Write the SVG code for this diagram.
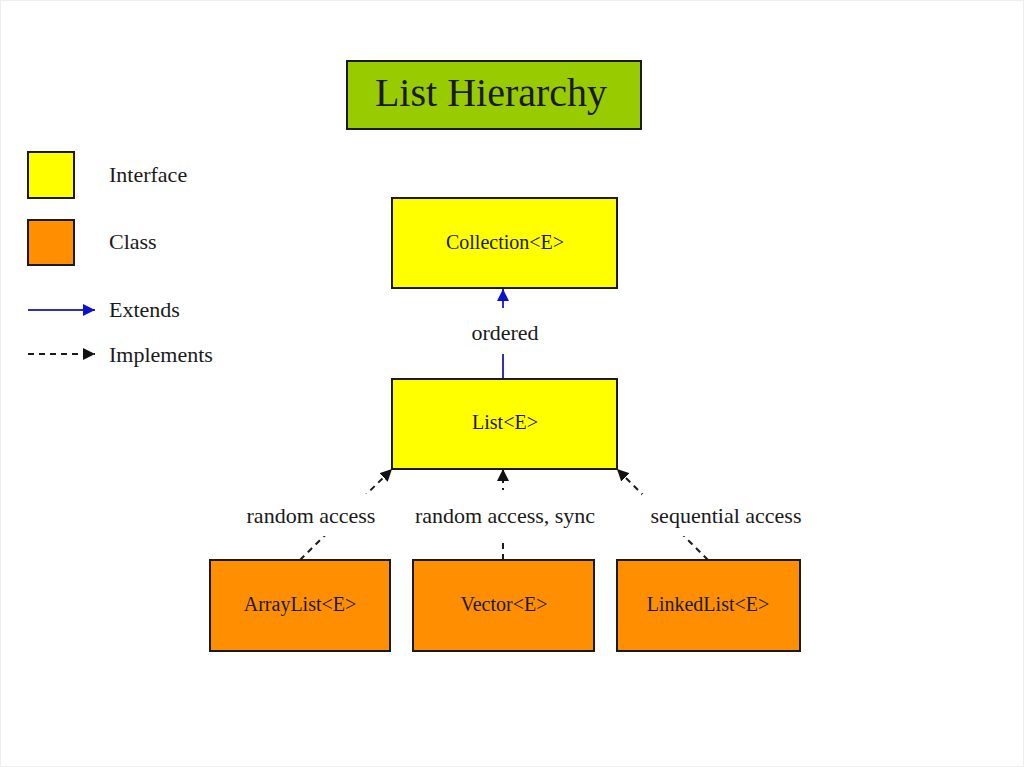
<svg xmlns="http://www.w3.org/2000/svg" width="1024" height="767" viewBox="0 0 1024 767">
<defs>
<style>
.t{font-family:"Liberation Serif","Times New Roman",serif;fill:#1a1a1a}
.box{stroke:#1a1a1a;stroke-width:2}
.ifc{fill:#ffff00}
.cls{fill:#ff8f00}
.lbl{font-size:22px;text-anchor:middle}
.nl{font-size:20px;text-anchor:middle}
.leg{font-size:22px}
.impl{stroke:#1a1a1a;stroke-width:2;stroke-dasharray:6,5;fill:none}
.ext{stroke:#3030c0;stroke-width:2;fill:none}
</style>
<marker id="ahk" viewBox="0 0 10 10" refX="10" refY="5" markerWidth="12" markerHeight="12" markerUnits="userSpaceOnUse" orient="auto"><path d="M0,0 L10,5 L0,10 z" fill="#111"/></marker>
<marker id="ahb" viewBox="0 0 10 10" refX="10" refY="5" markerWidth="12" markerHeight="12" markerUnits="userSpaceOnUse" orient="auto"><path d="M0,0 L10,5 L0,10 z" fill="#1010d0"/></marker>
</defs>
<rect x="0" y="0" width="1024" height="767" fill="#ffffff"/>
<rect x="0.5" y="0.5" width="1023" height="766" fill="none" stroke="#eeeeee"/>

<g id="title">
<rect x="347" y="61" width="294" height="68" fill="#99cc00" class="box"/>
<text x="491" y="106" class="t" font-size="40" text-anchor="middle">List Hierarchy</text>
</g>

<g id="legend">
<rect x="28" y="152" width="46" height="46" class="box ifc"/>
<text x="109" y="182" class="t leg">Interface</text>
<rect x="28" y="220" width="46" height="45" class="box cls"/>
<text x="109" y="249" class="t leg">Class</text>
<line x1="28" y1="310" x2="95" y2="310" class="ext" marker-end="url(#ahb)"/>
<text x="109" y="317" class="t leg">Extends</text>
<line x1="28" y1="354" x2="95" y2="354" class="impl" stroke-dasharray="5,4" marker-end="url(#ahk)"/>
<text x="109" y="362" class="t leg">Implements</text>
</g>

<g id="connectors">
<line x1="503" y1="379" x2="503" y2="289" class="ext" marker-end="url(#ahb)"/>
<line x1="300" y1="560" x2="392" y2="469" class="impl" marker-end="url(#ahk)"/>
<line x1="503" y1="560" x2="503" y2="469" class="impl" marker-end="url(#ahk)"/>
<line x1="708" y1="560" x2="617" y2="469" class="impl" marker-end="url(#ahk)"/>
<rect x="462" y="308" width="84" height="46" fill="#ffffff"/>
<text x="505" y="340" class="t lbl">ordered</text>
<rect x="238" y="494" width="146" height="42" fill="#ffffff"/>
<text x="311" y="523" class="t lbl">random access</text>
<rect x="404" y="490" width="202" height="50" fill="#ffffff"/>
<text x="505" y="523" class="t lbl">random access, sync</text>
<rect x="642" y="494" width="168" height="42" fill="#ffffff"/>
<text x="726" y="523" class="t lbl">sequential access</text>
</g>

<g id="collection">
<rect x="392" y="198" width="225" height="90" class="box ifc"/>
<text x="505" y="249" class="t nl">Collection&lt;E&gt;</text>
</g>
<g id="list">
<rect x="392" y="379" width="225" height="90" class="box ifc"/>
<text x="505" y="429" class="t nl">List&lt;E&gt;</text>
</g>
<g id="arraylist">
<rect x="210" y="560" width="180" height="91" class="box cls"/>
<text x="300" y="611" class="t nl">ArrayList&lt;E&gt;</text>
</g>
<g id="vector">
<rect x="413" y="560" width="181" height="91" class="box cls"/>
<text x="504" y="611" class="t nl">Vector&lt;E&gt;</text>
</g>
<g id="linkedlist">
<rect x="617" y="560" width="183" height="91" class="box cls"/>
<text x="708" y="611" class="t nl">LinkedList&lt;E&gt;</text>
</g>
</svg>
